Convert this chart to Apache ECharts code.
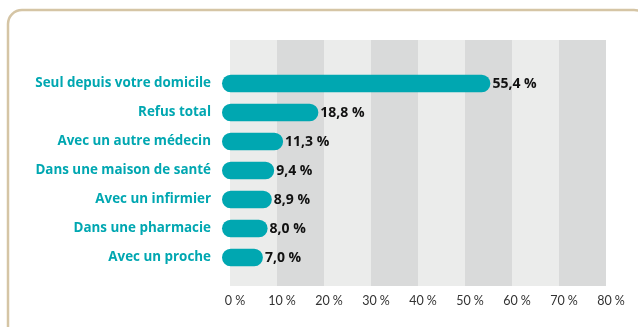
<!DOCTYPE html>
<html>
<head>
<meta charset="utf-8">
<script src="https://cdn.jsdelivr.net/npm/echarts@6/dist/echarts.min.js"></script>
<style>
  html, body { margin: 0; padding: 0; background: #ffffff; }
  #chart { width: 638px; height: 327px; }
</style>
</head>
<body>
<div id="chart"></div>
<script>
// Ways of carrying out the consultation, share of respondents (%)
const categories = [
  'Seul depuis votre domicile',
  'Refus total',
  'Avec un autre médecin',
  'Dans une maison de santé',
  'Avec un infirmier',
  'Dans une pharmacie',
  'Avec un proche'
];
const shares = [55.4, 18.8, 11.3, 9.4, 8.9, 8.0, 7.0];
const axisTicks = [0, 10, 20, 30, 40, 50, 60, 70, 80];

const TEAL = '#00a7b1';
const fmt = v => v.toFixed(1).replace('.', ',') + ' %';

const chart = echarts.init(document.getElementById('chart'), null, { renderer: 'canvas' });

chart.setOption({
  animation: false,
  backgroundColor: '#ffffff',
  graphic: [{
    type: 'rect',
    silent: true,
    shape: { x: 8, y: 10, width: 640, height: 340, r: 14 },
    style: { fill: 'transparent', stroke: '#d5c5a5', lineWidth: 2.5 }
  }],
  grid: [
    { left: 230, top: 40, width: 376, height: 246 },
    { left: 230, top: 69, width: 376, height: 203 }
  ],
  xAxis: [{
    gridIndex: 0,
    type: 'value',
    min: axisTicks[0],
    max: axisTicks[axisTicks.length - 1],
    interval: axisTicks[1] - axisTicks[0],
    axisLine: { show: false },
    axisTick: { show: false },
    splitLine: { show: false },
    splitArea: { show: true, areaStyle: { color: ['#ebeceb', '#d9dada'] } },
    axisLabel: {
      margin: 8,
      color: '#333333',
      fontFamily: 'Lato',
      fontSize: 12.5,
      padding: [0, 0, 0, 10],
      formatter: v => v + ' %'
    }
  }, {
    gridIndex: 1,
    type: 'value',
    min: axisTicks[0],
    max: axisTicks[axisTicks.length - 1],
    show: false
  }],
  yAxis: [{
    gridIndex: 0,
    type: 'value',
    show: false
  }, {
    gridIndex: 1,
    type: 'category',
    inverse: true,
    data: categories,
    axisLine: { show: false },
    axisTick: { show: false },
    axisLabel: {
      margin: 19,
      color: TEAL,
      fontFamily: 'Open Sans',
      fontWeight: 'bold',
      fontSize: 13.4
    }
  }],
  series: [{
    type: 'custom',
    xAxisIndex: 1,
    yAxisIndex: 1,
    clip: false,
    encode: { x: 0, y: 1 },
    data: shares.map((v, i) => [v, i]),
    renderItem: function (params, api) {
      const v = api.value(0);
      const c = api.value(1);
      const start = api.coord([0, c]);
      const end = api.coord([v, c]);
      const h = api.size([0, 1])[1] * 0.6;
      const x0 = start[0] - 8;
      return {
        type: 'group',
        children: [{
          type: 'rect',
          shape: { x: x0, y: end[1] - h / 2, width: end[0] - x0, height: h, r: h / 2 },
          style: { fill: TEAL }
        }, {
          type: 'text',
          style: {
            x: end[0] + 2,
            y: end[1] + 1,
            text: fmt(v),
            fill: '#111111',
            font: 'bold 14px "Open Sans"',
            textAlign: 'left',
            textVerticalAlign: 'middle'
          }
        }]
      };
    }
  }]
});
</script>
</body>
</html>
